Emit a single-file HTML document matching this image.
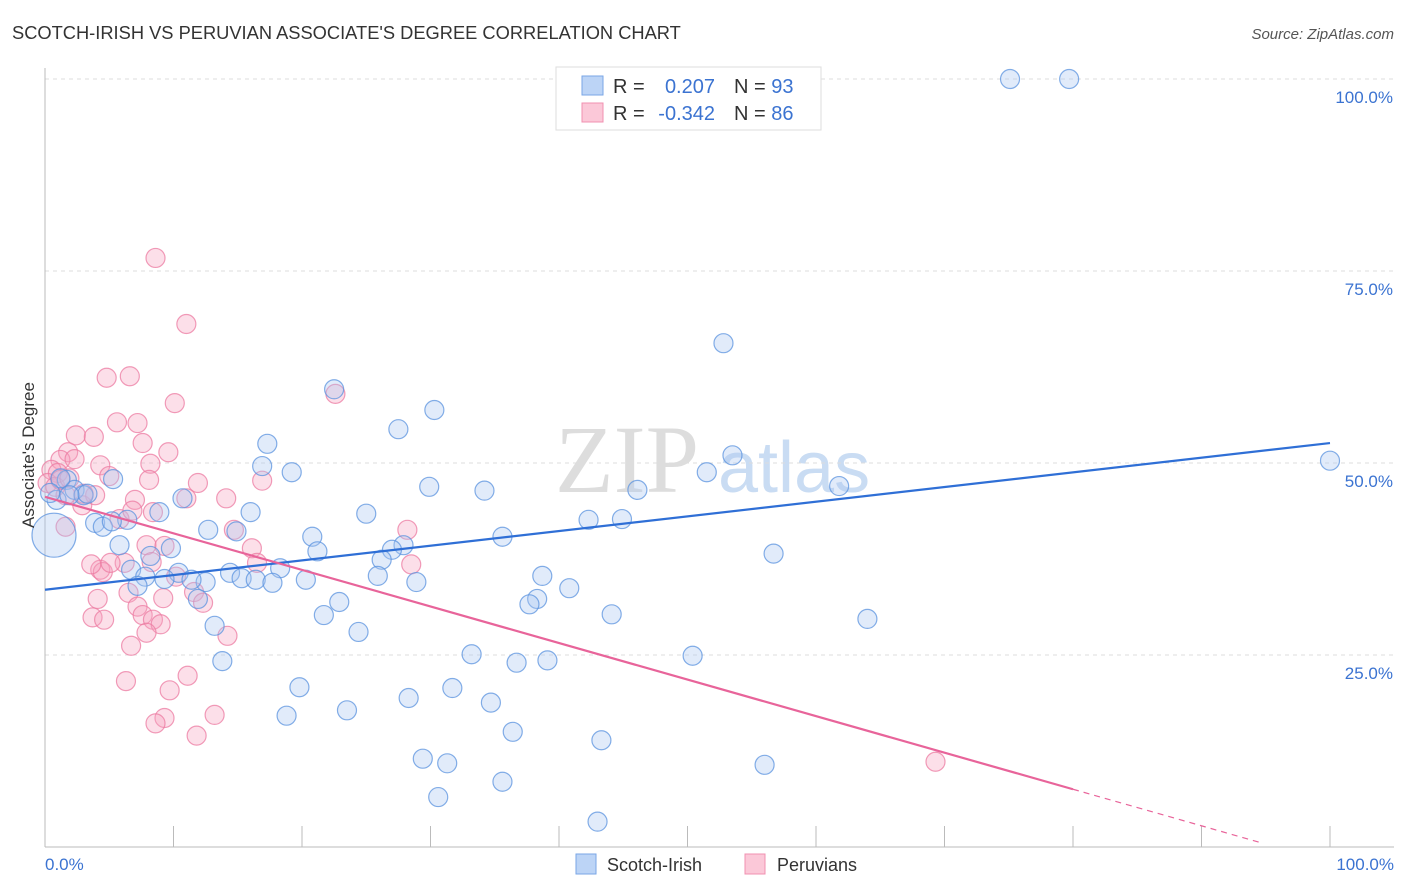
<!DOCTYPE html>
<html><head><meta charset="utf-8"><style>
body{margin:0;background:#fff;font-family:"Liberation Sans",sans-serif;}
#c{position:absolute;left:0;top:0;width:1406px;height:892px;}
</style></head><body>
<svg id="c" width="1406" height="892" xmlns="http://www.w3.org/2000/svg">
<text x="12" y="39" font-size="18.3" fill="#333">SCOTCH-IRISH VS PERUVIAN ASSOCIATE'S DEGREE CORRELATION CHART</text>
<text x="1394" y="39" font-size="15" fill="#555" font-style="italic" text-anchor="end">Source: ZipAtlas.com</text>
<text x="555" y="492" font-size="96" fill="#ddd" font-family="Liberation Serif,serif">ZIP</text>
<text x="718" y="492" font-size="72" fill="#c9dcf3">atlas</text>
<g id="grid"></g>
<g id="axes"></g>
<g id="pts"></g>
<g id="lines"></g>
<text transform="translate(34,455) rotate(-90)" font-size="17" fill="#333" text-anchor="middle">Associate's Degree</text>
<text x="45" y="870" font-size="17" fill="#3b73d1">0.0%</text>
<text x="1394" y="870" font-size="17" fill="#3b73d1" text-anchor="end">100.0%</text>
<g>
<rect x="556" y="67" width="265" height="63" fill="#fff" stroke="#ddd"/>
<rect x="582" y="76" width="21" height="19" fill="#bcd4f6" stroke="#7aa6e6"/>
<rect x="582" y="103" width="21" height="19" fill="#fbc8d8" stroke="#f090b0"/>
<text x="613" y="93" font-size="20" fill="#333">R =</text>
<text x="715" y="93" font-size="20" fill="#3b73d1" text-anchor="end">0.207</text>
<text x="734" y="93" font-size="20" fill="#333">N = <tspan fill="#3b73d1">93</tspan></text>
<text x="613" y="120" font-size="20" fill="#333">R =</text>
<text x="715" y="120" font-size="20" fill="#3b73d1" text-anchor="end">-0.342</text>
<text x="734" y="120" font-size="20" fill="#333">N = <tspan fill="#3b73d1">86</tspan></text>
</g>
<g>
<rect x="576" y="854" width="20" height="20" fill="#bcd4f6" stroke="#7aa6e6"/>
<text x="607" y="871" font-size="18" fill="#333">Scotch-Irish</text>
<rect x="745" y="854" width="20" height="20" fill="#fbc8d8" stroke="#f090b0"/>
<text x="777" y="871" font-size="18" fill="#333">Peruvians</text>
</g>
</svg>
<script>
const NS="http://www.w3.org/2000/svg";
const yTicks=[25,50,75,100];
const yTickLabels=["25.0%","50.0%","75.0%","100.0%"];
const xTicks=[0,10,20,30,40,50,60,70,80,90,100];
const blueX=[75.1,79.7,49.0,50.2,100,52.8,22.5,30.3,27.5,17.3,16.9,19.2,53.5,51.5,61.8,29.9,34.2,46.1,5.3,10.7,16.0,25.0,8.9,42.3,44.9,35.6,20.8,12.7,14.9,6.4,3.9,4.5,5.2,5.8,9.8,21.2,27.9,27.0,26.2,8.2,56.7,6.7,7.8,10.4,12.5,14.4,15.3,16.4,18.3,17.7,20.3,9.3,11.4,7.2,25.9,28.9,38.7,40.8,38.3,37.7,22.9,11.9,21.7,44.1,64.0,13.2,24.4,33.2,36.7,39.1,50.4,13.8,19.8,31.7,28.3,34.7,23.5,18.8,36.4,43.3,29.4,31.3,56.0,35.6,30.6,43.0,0.9,1.7,2.3,3.0,3.3,1.2,0.4,1.9];
const blueY=[100,100,100,100,50.3,65.6,59.6,56.9,54.4,52.5,49.6,48.8,51.0,48.8,47.0,46.9,46.4,46.5,47.9,45.4,43.6,43.4,43.6,42.6,42.7,40.4,40.4,41.3,41.1,42.6,42.2,41.7,42.4,39.3,38.9,38.5,39.3,38.7,37.4,37.9,38.2,36.1,35.2,35.7,34.5,35.7,35.0,34.8,36.3,34.4,34.8,34.9,34.8,34.0,35.3,34.5,35.3,33.7,32.3,31.6,31.9,32.3,30.2,30.3,29.7,28.8,28.0,25.1,24.0,24.3,24.9,24.2,20.8,20.7,19.4,18.8,17.8,17.1,15.0,13.9,11.5,10.9,10.7,8.5,6.5,3.3,45.2,47.8,46.5,45.8,46.0,48.0,46.1,45.8];
const bigBlueX=[0.7];
const bigBlueY=[40.6];
const pinkX=[8.6,11.0,4.8,6.6,22.6,10.1,5.6,2.4,3.8,7.6,9.6,7.2,1.8,1.2,2.3,4.3,8.2,5.0,8.1,11.9,16.9,14.1,7.0,11.0,2.9,3.9,0.5,1.0,0.2,0.8,1.6,3.0,1.2,1.9,5.8,6.8,8.4,28.2,14.7,16.1,7.9,9.3,1.6,4.3,6.2,4.5,5.1,3.6,8.3,10.2,11.6,12.3,4.1,6.5,9.2,7.2,7.6,3.7,4.6,8.4,9.0,6.7,7.9,14.2,9.7,11.1,6.3,13.2,9.3,8.6,11.8,69.3,28.5,16.5];
const pinkY=[76.7,68.1,61.1,61.3,59.0,57.8,55.3,53.6,53.4,52.6,51.4,55.2,51.4,50.4,50.5,49.7,49.9,48.3,47.8,47.4,47.7,45.4,45.2,45.4,44.5,45.8,49.1,48.7,47.4,46.9,45.8,46.0,47.8,48.0,42.7,43.8,43.6,41.3,41.3,38.9,39.3,39.2,41.7,36.1,37.0,35.8,37.0,36.8,37.1,35.2,33.2,31.8,32.3,33.1,32.4,31.3,30.2,29.9,29.6,29.6,29.0,26.2,27.9,27.5,20.4,22.3,21.6,17.2,16.8,16.1,14.5,11.1,36.8,37.0];
const blueTrend=[33.5,52.6];   // value at x=0, x=100
const pinkTrend=[45.6,-0.476]; // intercept, slope
const pinkSolidEnd=80, pinkDashEnd=94.6;

const X=v=>45+v*12.85, Y=v=>847-v*7.68;
function mk(tag,attrs,parent){const e=document.createElementNS(NS,tag);for(const k in attrs)e.setAttribute(k,attrs[k]);document.getElementById(parent).appendChild(e);return e;}

yTicks.forEach((t,i)=>{
  const l=mk('line',{x1:45,x2:1394,y1:Y(t),y2:Y(t),stroke:'#ddd','stroke-dasharray':'4,4'},'grid');
  
  
  const tx=mk('text',{x:1393,y:Y(t)+24,'font-size':17,fill:'#3b73d1','text-anchor':'end'},'grid');
  tx.textContent=yTickLabels[i];
  
  
});
let a=mk('line',{x1:45,x2:45,y1:68,y2:847,stroke:'#bbb'},'axes');


a=mk('line',{x1:45,x2:1394,y1:847,y2:847,stroke:'#bbb'},'axes');


xTicks.forEach(t=>{
  const l=mk('line',{x1:X(t),x2:X(t),y1:826,y2:847,stroke:'#bbb'},'axes');
  
  
});
function dots(xs,ys,fill,stroke,name,r){
  xs.forEach((x,i)=>{
    const c=mk('circle',{cx:X(x),cy:Y(ys[i]),r:r,fill:fill,'fill-opacity':0.35,stroke:stroke,'stroke-opacity':0.75,'stroke-width':1.2},'pts');
    
    
  });
}
dots(pinkX,pinkY,'#f5a3bf','#ec7ba2','peruvian-point',9.5);
dots(blueX,blueY,'#a9c7f0','#5b93df','scotch-irish-point',9.5);
dots(bigBlueX,bigBlueY,'#a9c7f0','#5b93df','scotch-irish-point-large',22);
let ln=mk('line',{x1:X(0),y1:Y(blueTrend[0]),x2:X(100),y2:Y(blueTrend[1]),stroke:'#2f6fd6','stroke-width':2.2},'lines');


const pf=x=>pinkTrend[0]+pinkTrend[1]*x;
ln=mk('line',{x1:X(0),y1:Y(pf(0)),x2:X(pinkSolidEnd),y2:Y(pf(pinkSolidEnd)),stroke:'#e8649a','stroke-width':2.2},'lines');


ln=mk('line',{x1:X(pinkSolidEnd),y1:Y(pf(pinkSolidEnd)),x2:X(pinkDashEnd),y2:Y(pf(pinkDashEnd)),stroke:'#e8649a','stroke-width':1.2,'stroke-dasharray':'6,5'},'lines');


</script>
</body></html>
